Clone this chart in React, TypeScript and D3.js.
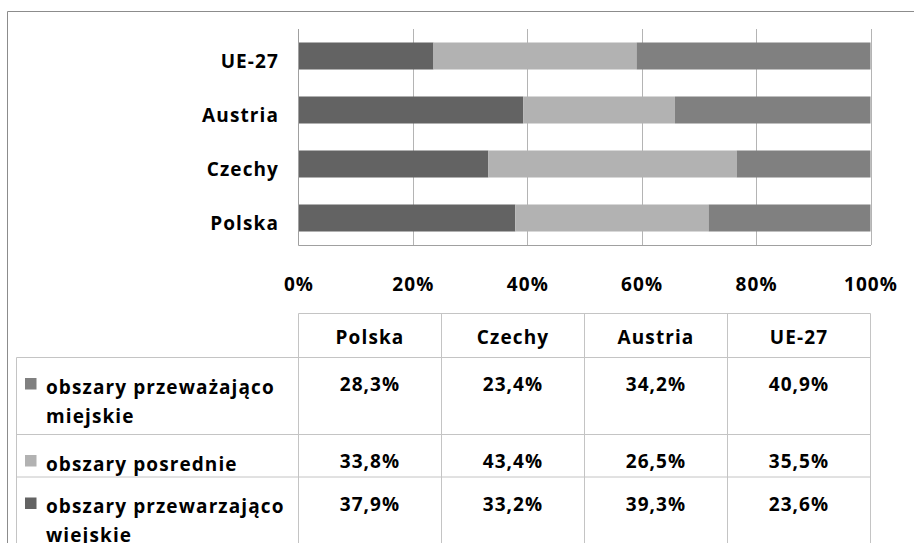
import React, { useRef, useEffect } from 'react';
import * as d3 from 'd3';

const categories = ['Polska', 'Czechy', 'Austria', 'UE-27'];
const miejskie = [28.3, 23.4, 34.2, 40.9];
const posrednie = [33.8, 43.4, 26.5, 35.5];
const wiejskie = [37.9, 33.2, 39.3, 23.6];
const seriesKeys = ['wiejskie', 'posrednie', 'miejskie'];
const seriesColors = ['#636363', '#b2b2b2', '#808080'];
// table rows, top to bottom
const tableRows = [
  { key: 'miejskie', lines: ['obszary przeważająco', 'miejskie'] },
  { key: 'posrednie', lines: ['obszary posrednie'] },
  { key: 'wiejskie', lines: ['obszary przewarzająco', 'wiejskie'] },
];
const xTicks = [0, 0.2, 0.4, 0.6, 0.8, 1];

const FONT = '"Open Sans", sans-serif';

const App = () => {
  const svgRef = useRef(null);

  useEffect(() => {
    const width = 914;
    const height = 543;
    const svg = d3.select(svgRef.current)
      .attr('width', width)
      .attr('height', height)
      .style('position', 'absolute')
      .style('left', 0)
      .style('top', 0)
      .style('background', '#fff');
    svg.selectAll('*').remove();

    const pl = d3.formatLocale({ decimal: ',', thousands: ' ', grouping: [3], currency: ['', ' zł'] });
    const fmtVal = pl.format('.1f');

    const data = categories.map((c, i) => ({
      cat: c,
      miejskie: miejskie[i],
      posrednie: posrednie[i],
      wiejskie: wiejskie[i],
    }));

    const x = d3.scaleLinear().domain([0, 1]).range([298.5, 870.5]);
    const y = d3.scaleBand()
      .domain(categories.slice().reverse())
      .range([29, 245])
      .paddingInner(0.5)
      .paddingOuter(0.25);

    const text = (sel) => sel
      .style('font-family', FONT)
      .style('font-weight', 700)
      .style('font-size', '19px')
      .style('letter-spacing', '1.1px')
      .attr('fill', '#000');

    // outer frame
    svg.append('path')
      .attr('d', `M7.5,543 L7.5,11.5 L914,11.5`)
      .attr('fill', 'none')
      .attr('stroke', '#8c8c8c');

    // gridlines
    svg.append('g').selectAll('line')
      .data(xTicks.slice(1))
      .enter().append('line')
      .attr('x1', d => Math.round(x(d)) + 0.5)
      .attr('x2', d => Math.round(x(d)) + 0.5)
      .attr('y1', 29)
      .attr('y2', 245)
      .attr('stroke', '#b4b4b4');

    // stacked bars
    const stack = d3.stack().keys(seriesKeys).offset(d3.stackOffsetExpand);
    const layers = stack(data);
    svg.append('g').selectAll('g')
      .data(layers)
      .enter().append('g')
      .attr('fill', (d, i) => seriesColors[i])
      .selectAll('rect')
      .data(d => d)
      .enter().append('rect')
      .attr('x', d => x(d[0]))
      .attr('width', d => x(d[1]) - x(d[0]))
      .attr('y', d => y(d.data.cat))
      .attr('height', y.bandwidth());

    // axes lines
    svg.append('line')
      .attr('x1', 298.5).attr('x2', 298.5).attr('y1', 29).attr('y2', 245.5)
      .attr('stroke', '#a0a0a0');
    svg.append('line')
      .attr('x1', 298.5).attr('x2', 871).attr('y1', 245.5).attr('y2', 245.5)
      .attr('stroke', '#a0a0a0');

    // category labels
    svg.append('g').selectAll('text')
      .data(categories)
      .enter().append('text')
      .call(text)
      .attr('x', 279)
      .attr('y', d => y(d) + y.bandwidth() / 2 + 12)
      .attr('text-anchor', 'end')
      .text(d => d);

    // x tick labels
    svg.append('g').selectAll('text')
      .data(xTicks)
      .enter().append('text')
      .call(text)
      .attr('x', d => x(d) + 0.5)
      .attr('y', 291)
      .attr('text-anchor', 'middle')
      .text(d => d3.format('.0%')(d));

    // data table
    const col = d3.scaleBand().domain(categories).range([298.5, 870.5]);
    const headTop = 313.5;
    const headBottom = 357.5;
    const rowHeight = (r) => (r.lines.length > 1 ? 77 : 42.5);
    let top = headBottom;
    const rowTops = tableRows.map(r => { const t = top; top += rowHeight(r); return t; });

    const tg = svg.append('g').attr('stroke', '#c4c4c4');
    tg.append('line').attr('x1', 298.5).attr('x2', 870.5).attr('y1', headTop).attr('y2', headTop);
    [headBottom, ...rowTops.slice(1)].forEach(t => {
      tg.append('line').attr('x1', 16.5).attr('x2', 870.5).attr('y1', t).attr('y2', t);
    });
    tg.append('line').attr('x1', 16.5).attr('x2', 16.5).attr('y1', headBottom).attr('y2', height);
    [...categories.map(c => col(c)), 870.5].forEach(px => {
      tg.append('line').attr('x1', px).attr('x2', px).attr('y1', headTop).attr('y2', height);
    });

    svg.append('g').selectAll('text')
      .data(categories)
      .enter().append('text')
      .call(text)
      .attr('x', d => col(d) + col.bandwidth() / 2)
      .attr('y', 344)
      .attr('text-anchor', 'middle')
      .text(d => d);

    const seriesData = { miejskie, posrednie, wiejskie };
    tableRows.forEach((r, ri) => {
      const t = rowTops[ri];
      const g = svg.append('g');
      g.append('rect')
        .attr('x', 25).attr('y', t + 20.5)
        .attr('width', 11.5).attr('height', 11.5)
        .attr('fill', seriesColors[seriesKeys.indexOf(r.key)]);
      r.lines.forEach((ln, li) => {
        g.append('text').call(text)
          .attr('x', 46)
          .attr('y', t + 36 + li * 29)
          .text(ln);
      });
      g.selectAll('text.val')
        .data(seriesData[r.key])
        .enter().append('text')
        .attr('class', 'val')
        .call(text)
        .attr('x', (d, i) => col(categories[i]) + col.bandwidth() / 2)
        .attr('y', t + 33.5)
        .attr('text-anchor', 'middle')
        .text(d => fmtVal(d) + '%');
    });
  }, []);

  return <svg ref={svgRef}></svg>;
};

export default App;
